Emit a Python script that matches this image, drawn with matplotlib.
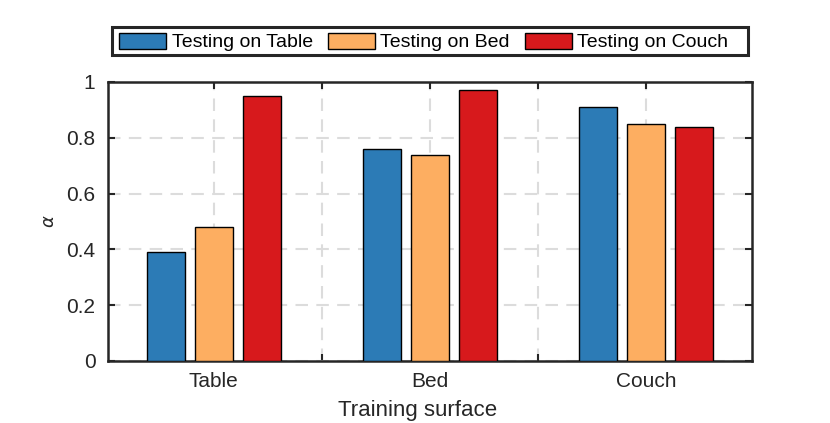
import matplotlib.pyplot as plt
from matplotlib.patches import Rectangle
import numpy as np

surfaces = ["Table", "Bed", "Couch"]
series = ["Testing on Table", "Testing on Bed", "Testing on Couch"]
on_table = [0.39, 0.76, 0.91]
on_bed = [0.48, 0.74, 0.85]
on_couch = [0.95, 0.97, 0.84]
colors = ["#2C7BB6", "#FDAE61", "#D7191C"]
dark = "#262626"

plt.rcParams["font.family"] = ["Liberation Sans", "DejaVu Sans"]
fig = plt.figure(figsize=(8.3, 4.23), dpi=100)
ax = fig.add_axes([0.130, 0.1466, 0.776, 0.6596])

x = np.arange(1, len(surfaces) + 1)
width = 0.178
step = 0.222
handles = []
for i, (vals, name) in enumerate(zip([on_table, on_bed, on_couch], series)):
    h = ax.bar(x + (i - 1) * step, vals, width, color=colors[i],
               edgecolor="black", linewidth=1.0, label=name, zorder=3)
    handles.append(h)

ax.set_xlim(0.51, 3.49)
ax.set_ylim(0, 1)
ax.set_xticks(x)
ax.set_xticklabels(surfaces)
ax.set_xticks([1.5, 2.5], minor=True)
ax.set_yticks(np.arange(0, 1.01, 0.2))
ax.set_yticklabels(["0", "0.2", "0.4", "0.6", "0.8", "1"])
ax.tick_params(axis="both", which="both", direction="in", top=True, right=True,
               length=5, width=1.5, color=dark, labelsize=15, labelcolor=dark)
ax.tick_params(axis="x", which="both", pad=8)
ax.tick_params(axis="y", which="both", pad=9)
ax.grid(True, which="both", linestyle=(0, (6, 4)), color="#dcdcdc", linewidth=1.5, zorder=0)
for s in ax.spines.values():
    s.set_linewidth(1.8)
    s.set_color(dark)

ax.set_xlabel("Training surface", fontsize=16, color=dark, labelpad=6.5)
ax.xaxis.label.set_x(0.481)
ax.set_ylabel(r"$\alpha$", fontsize=13, color=dark, labelpad=6)

# legend without its own frame, box drawn separately to match the padding
leg = fig.legend(handles=handles, loc="center left", ncol=3,
                 bbox_to_anchor=(119 / 830, 1 - 42 / 423), fontsize=14,
                 frameon=False, handlelength=2.42, handleheight=0.93,
                 handletextpad=0.3, columnspacing=0.75,
                 borderaxespad=0, borderpad=0)
fig.patches.append(Rectangle((112 / 830, 1 - 55 / 423), 636 / 830, 28 / 423,
                             transform=fig.transFigure, facecolor="white",
                             edgecolor=dark, linewidth=2.2, zorder=0))

fig.savefig("out.png", dpi=100)
